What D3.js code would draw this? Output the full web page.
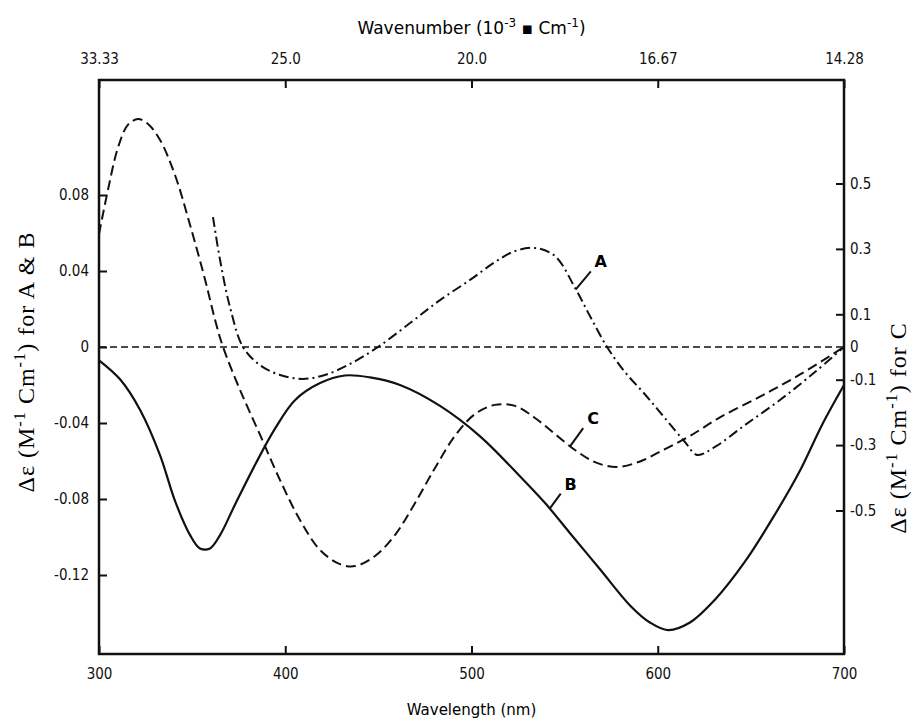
<!DOCTYPE html>
<html>
<head>
<meta charset="utf-8">
<script src="https://cdn.jsdelivr.net/npm/d3@7/dist/d3.min.js"></script>
<style>
  html, body { margin: 0; padding: 0; background: #fff; }
  svg { display: block; }
  .tick text { font-family: "DejaVu Sans Condensed", "DejaVu Sans", "Liberation Sans", sans-serif; font-size: 15px; fill: #111; }
</style>
</head>
<body>
<svg id="chart" width="922" height="723"></svg>
<script>
// ---------------- data ----------------
// Wavelength (nm) and Δε values
const curveA_nm  = [361.2, 365.0, 370.3, 377.3, 386.4, 397.2, 409.5, 421.3, 434.8, 449.8, 467.0, 483.1, 499.2, 512.6, 523.4, 534.1, 544.8, 555.6, 563.6, 572.8, 582.4, 593.2, 603.9, 614.6, 621.1, 630.7, 646.8, 665.6, 684.4, 700.0];
const curveA_val = [0.0684, 0.0458, 0.0211, 0.0, -0.0095, -0.0147, -0.0168, -0.0147, -0.0089, 0.0, 0.0126, 0.0247, 0.0353, 0.0447, 0.0505, 0.0521, 0.0479, 0.0311, 0.0163, 0.0, -0.0132, -0.0250, -0.0375, -0.0500, -0.0568, -0.0526, -0.0411, -0.0279, -0.0132, 0.0];

const curveB_nm  = [300.0, 311.3, 322.0, 332.8, 340.8, 348.9, 354.2, 359.6, 365.0, 373.0, 383.8, 394.5, 405.2, 418.7, 432.0, 445.5, 461.6, 483.1, 504.6, 526.0, 539.4, 552.9, 569.0, 585.1, 595.8, 605.5, 617.3, 630.7, 646.8, 663.0, 676.4, 688.2, 700.0];
const curveB_val = [-0.007, -0.017, -0.033, -0.057, -0.081, -0.099, -0.106, -0.106, -0.099, -0.083, -0.062, -0.043, -0.028, -0.019, -0.015, -0.016, -0.020, -0.031, -0.047, -0.068, -0.082, -0.098, -0.117, -0.136, -0.145, -0.149, -0.145, -0.133, -0.113, -0.088, -0.065, -0.041, -0.020];

const curveC_nm  = [300.0, 304.8, 310.2, 315.6, 321.0, 326.3, 332.8, 340.8, 348.9, 357.0, 362.3, 366.6, 375.7, 386.5, 397.2, 407.9, 418.7, 429.4, 437.5, 448.2, 458.9, 469.7, 480.4, 491.1, 501.9, 512.6, 523.4, 534.1, 544.8, 555.6, 566.3, 577.6, 590.5, 603.9, 617.3, 633.4, 654.9, 676.4, 700.0];
const curveC_val = [0.345, 0.480, 0.610, 0.680, 0.697, 0.682, 0.633, 0.526, 0.373, 0.205, 0.083, 0.0, -0.131, -0.269, -0.407, -0.529, -0.621, -0.664, -0.670, -0.639, -0.575, -0.477, -0.370, -0.272, -0.205, -0.177, -0.180, -0.217, -0.266, -0.315, -0.352, -0.367, -0.350, -0.312, -0.272, -0.215, -0.152, -0.084, 0.0];

const bottomTicks = [300, 400, 500, 600, 700];
const topTickLabels = ["33.33", "25.0", "20.0", "16.67", "14.28"];
const leftTicks = [0.08, 0.04, 0, -0.04, -0.08, -0.12];
const leftTickLabels = ["0.08", "0.04", "0", "-0.04", "-0.08", "-0.12"];
const rightTicks = [0.5, 0.3, 0.1, 0, -0.1, -0.3, -0.5];
const rightTickLabels = ["0.5", "0.3", "0.1", "0", "-0.1", "-0.3", "-0.5"];

// ---------------- layout ----------------
const svg = d3.select("#chart");
const L = 99, R = 844, T = 80, B = 654;

const x = d3.scaleLinear().domain([300, 700]).range([L, R]);
const yL = d3.scaleLinear().domain([-0.12, 0.08]).range([575, 195]);
const yR = d3.scaleLinear().domain([-0.5, 0.5]).range([510.5, 183.5]);

const sansFont = '"DejaVu Sans", "Liberation Sans", sans-serif';
const serifFont = '"Liberation Serif", "DejaVu Serif", serif';

// frame
svg.append("rect").attr("x", L).attr("y", T).attr("width", R - L).attr("height", B - T)
  .attr("fill", "none").attr("stroke", "#111").attr("stroke-width", 2.5);

// axes
const gB = svg.append("g").attr("transform", `translate(0,${B})`)
  .call(d3.axisBottom(x).tickValues(bottomTicks).tickSize(-8).tickPadding(14).tickFormat(d3.format("d")));
const gT = svg.append("g").attr("transform", `translate(0,${T})`)
  .call(d3.axisTop(x).tickValues(bottomTicks).tickSize(-8).tickPadding(16).tickFormat((d, i) => topTickLabels[i]));
const gL = svg.append("g").attr("transform", `translate(${L},0)`)
  .call(d3.axisLeft(yL).tickValues(leftTicks).tickSize(-8).tickPadding(10).tickFormat((d, i) => leftTickLabels[i]));
const gR = svg.append("g").attr("transform", `translate(${R},0)`)
  .call(d3.axisRight(yR).tickValues(rightTicks).tickSize(-8).tickPadding(6).tickFormat((d, i) => rightTickLabels[i]));

[gB, gT, gL, gR].forEach(g => {
  g.select(".domain").remove();
  g.selectAll(".tick line").attr("stroke", "#111").attr("stroke-width", 2);
});
gR.selectAll(".tick").filter(d => d === 0).select("line").remove();

// zero reference line
svg.append("line").attr("x1", L).attr("x2", R).attr("y1", yL(0)).attr("y2", yL(0))
  .attr("stroke", "#111").attr("stroke-width", 1.6).attr("stroke-dasharray", "7,4");

// curves
const lineL = d3.line().x(d => x(d[0])).y(d => yL(d[1])).curve(d3.curveCatmullRom.alpha(0.5));
const lineR = d3.line().x(d => x(d[0])).y(d => yR(d[1])).curve(d3.curveCatmullRom.alpha(0.5));
const zipA = d3.zip(curveA_nm, curveA_val);
const zipB = d3.zip(curveB_nm, curveB_val);
const zipC = d3.zip(curveC_nm, curveC_val);

svg.append("path").datum(zipC).attr("d", lineR).attr("fill", "none")
  .attr("stroke", "#111").attr("stroke-width", 2).attr("stroke-dasharray", "10,5");
svg.append("path").datum(zipA).attr("d", lineL).attr("fill", "none")
  .attr("stroke", "#111").attr("stroke-width", 2).attr("stroke-dasharray", "10,4,2,4");
svg.append("path").datum(zipB).attr("d", lineL).attr("fill", "none")
  .attr("stroke", "#111").attr("stroke-width", 2.2);

// curve labels with leader strokes
function valueAt(nms, vals, nm) {
  const i = d3.bisectLeft(nms, nm);
  if (i <= 0) return vals[0];
  if (i >= nms.length) return vals[vals.length - 1];
  const t = (nm - nms[i - 1]) / (nms[i] - nms[i - 1]);
  return vals[i - 1] + t * (vals[i] - vals[i - 1]);
}
function curveLabel(text, px, py, dx, dy) {
  svg.append("line").attr("x1", px).attr("y1", py).attr("x2", px + dx).attr("y2", py + dy)
    .attr("stroke", "#111").attr("stroke-width", 2);
  svg.append("text").attr("x", px + dx + 10).attr("y", py + dy - 4)
    .attr("text-anchor", "middle").attr("font-family", sansFont).attr("font-weight", "bold")
    .attr("font-size", 16).text(text);
}
curveLabel("A", x(556), yL(valueAt(curveA_nm, curveA_val, 556)), 15, -18);
curveLabel("C", x(553), yR(valueAt(curveC_nm, curveC_val, 553)), 13, -18);
curveLabel("B", x(542), yL(valueAt(curveB_nm, curveB_val, 542)), 11, -15);

// titles
const topTitle = svg.append("text").attr("x", (L + R) / 2).attr("y", 34).attr("text-anchor", "middle")
  .attr("font-family", sansFont).attr("font-size", 17);
topTitle.append("tspan").text("Wavenumber (10");
topTitle.append("tspan").attr("baseline-shift", "super").attr("font-size", 12).text("-3");
topTitle.append("tspan").text(" ▪ Cm");
topTitle.append("tspan").attr("baseline-shift", "super").attr("font-size", 12).text("-1");
topTitle.append("tspan").text(")");

svg.append("text").attr("x", (L + R) / 2).attr("y", 715).attr("text-anchor", "middle")
  .attr("font-family", sansFont).attr("font-size", 15).text("Wavelength (nm)");

function yTitle(cx, cy, tail, size) {
  const t = svg.append("text").attr("transform", `translate(${cx},${cy}) rotate(-90)`)
    .attr("text-anchor", "middle").attr("font-family", serifFont).attr("font-size", size)
    .attr("letter-spacing", 1);
  t.append("tspan").text("Δε (M");
  t.append("tspan").attr("baseline-shift", "super").attr("font-size", size * 0.68).text("-1");
  t.append("tspan").text(" Cm");
  t.append("tspan").attr("baseline-shift", "super").attr("font-size", size * 0.68).text("-1");
  t.append("tspan").text(") " + tail);
  return t;
}
const titleSize = 24;
yTitle(34, 362, "for A & B", titleSize);
yTitle(906, 428, "for C", titleSize);
</script>
</body>
</html>
